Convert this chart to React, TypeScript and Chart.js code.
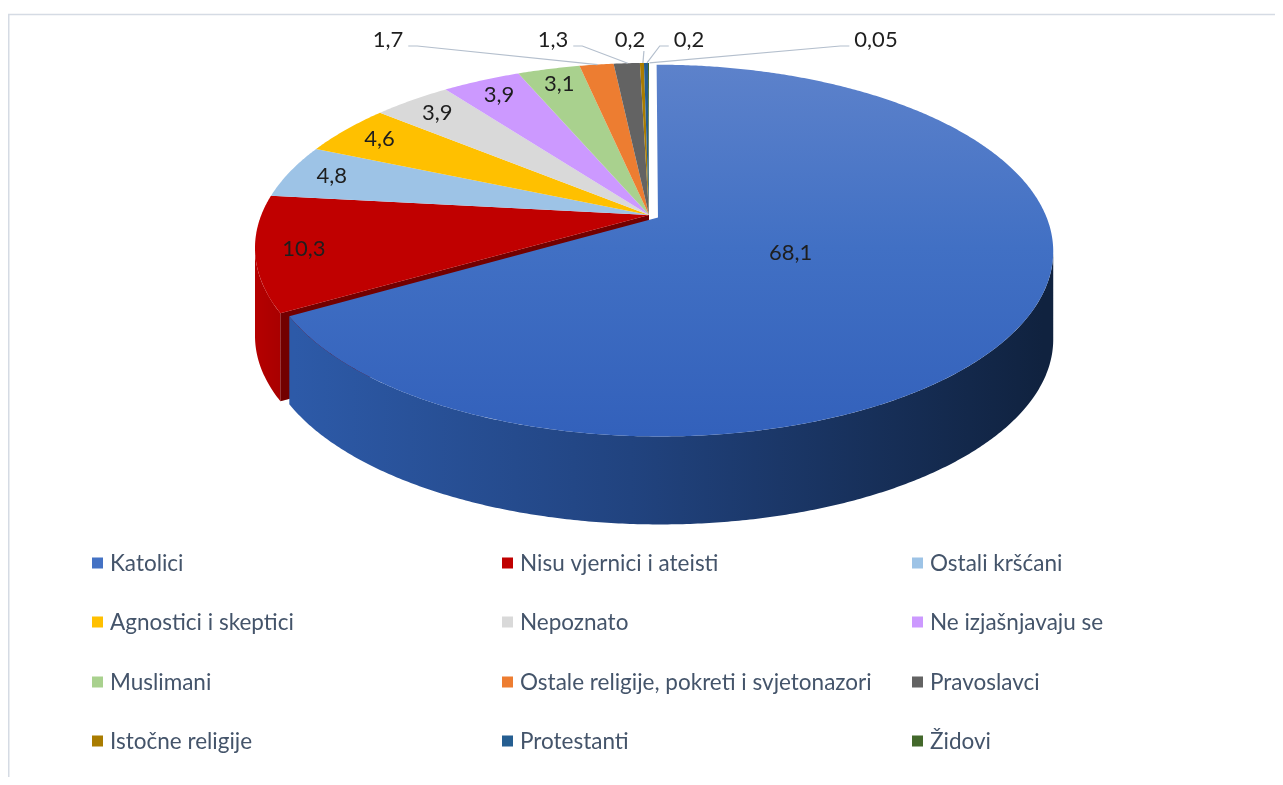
import React, { useEffect, useRef } from 'react';
import { Chart, registerables } from 'chart.js';

Chart.register(...registerables);

const categories = [
  'Katolici',
  'Nisu vjernici i ateisti',
  'Ostali kršćani',
  'Agnostici i skeptici',
  'Nepoznato',
  'Ne izjašnjavaju se',
  'Muslimani',
  'Ostale religije, pokreti i svjetonazori',
  'Pravoslavci',
  'Istočne religije',
  'Protestanti',
  'Židovi',
];
const values = [68.1, 10.3, 4.8, 4.6, 3.9, 3.9, 3.1, 1.7, 1.3, 0.2, 0.2, 0.05];
const colors = [
  '#4472c4', '#c00000', '#9dc3e6', '#ffc000', '#d9d9d9', '#cc99ff',
  '#a9d18e', '#ed7d31', '#636363', '#a97c00', '#255e91', '#43682b',
];
const sideColors = [
  '#1f3f78', '#a40000', '#6f94b8', '#c89600', '#a6a6a6', '#9a70c8',
  '#7fa06a', '#b85f24', '#404040', '#6e5300', '#183f62', '#2e4a1e',
];

const PIE_RADIUS = 394;
const PERSP = -0.178; // perspective factor of the tilted disc
const TILT_Y = 0.4546; // vertical squash of the disc
const DEPTH = 88;
const FONT = "Lato, 'Open Sans', sans-serif";

const fmt = (v: number) => String(v).replace('.', ',');

function makeProjector(cx: number, cy: number, R: number, a: number, ty: number) {
  const sxf = Math.sqrt(1 - a * a);
  return (x: number, y: number): [number, number] => {
    const X = (x - cx) / R;
    const Y = (y - cy) / R;
    const d = 1 + a * Y;
    return [cx + (R * sxf * X) / d, cy + (R * ty * Y) / d];
  };
}

// A drawing context that forwards to the real one, projecting every point
function projCtx(real: any, proj: (x: number, y: number) => [number, number]) {
  let tx = 0;
  let ty = 0;
  const st: number[][] = [];
  const P = (x: number, y: number) => proj(x + tx, y + ty);
  const o: any = {
    save() { st.push([tx, ty]); real.save(); },
    restore() { const s = st.pop(); if (s) { tx = s[0]; ty = s[1]; } real.restore(); },
    translate(x: number, y: number) { tx += x; ty += y; },
    beginPath() { real.beginPath(); },
    closePath() { real.closePath(); },
    moveTo(x: number, y: number) { const q = P(x, y); real.moveTo(q[0], q[1]); },
    lineTo(x: number, y: number) { const q = P(x, y); real.lineTo(q[0], q[1]); },
    arc(x: number, y: number, r: number, s: number, e: number, ccw?: boolean) {
      if (!(r > 0) || !isFinite(s) || !isFinite(e)) { o.lineTo(x, y); return; }
      const TAU = Math.PI * 2;
      let sweep: number;
      if (!ccw) sweep = e - s >= TAU ? TAU : (((e - s) % TAU) + TAU) % TAU;
      else sweep = s - e >= TAU ? -TAU : -((((s - e) % TAU) + TAU) % TAU);
      const n = Math.max(2, Math.ceil(Math.abs(sweep) / 0.008));
      for (let i = 0; i <= n; i++) {
        const t = s + (sweep * i) / n;
        o.lineTo(x + r * Math.cos(t), y + r * Math.sin(t));
      }
    },
    fill() { real.fill(); },
    stroke() { real.stroke(); },
    clip() { real.clip(); },
    setLineDash(v: number[]) { real.setLineDash(v); },
    getLineDash() { return real.getLineDash(); },
  };
  ['fillStyle', 'strokeStyle', 'lineWidth', 'lineJoin', 'lineCap', 'lineDashOffset', 'globalAlpha', 'miterLimit'].forEach((p) =>
    Object.defineProperty(o, p, { get: () => real[p], set: (v) => { real[p] = v; } }),
  );
  return o;
}

const pie3d = {
  id: 'pie3d',
  beforeDraw(chart: any) {
    const ctx = chart.ctx;
    ctx.save();
    ctx.strokeStyle = '#d5dbe4';
    ctx.lineWidth = 1.5;
    ctx.beginPath();
    ctx.moveTo(0.75, chart.height);
    ctx.lineTo(0.75, 6.5);
    ctx.lineTo(chart.width, 6.5);
    ctx.stroke();
    ctx.restore();
  },
  beforeDatasetsDraw(chart: any, _args: any, opts: any) {
    const ctx = chart.ctx;
    const arcs = chart.getDatasetMeta(0).data as any[];
    if (!arcs.length) return false;
    const depth = opts.depth;
    const cx = arcs[0].x;
    const cy = arcs[0].y;
    const R = arcs[0].outerRadius;
    const proj = makeProjector(cx, cy, R, opts.persp, opts.tiltY);
    const off = arcs.map((a, i) => {
      const d = opts.explode[i] || 0;
      const b = (a.startAngle + a.endAngle) / 2;
      return { dx: d * Math.cos(b), dy: d * Math.sin(b) };
    });
    const rim = (i: number, t: number) => proj(cx + off[i].dx + R * Math.cos(t), cy + off[i].dy + R * Math.sin(t));
    const tR = Math.asin(-opts.persp);
    const tL = Math.PI - tR;
    const sideFill = (i: number) => {
      if (i === 0) {
        const g = ctx.createLinearGradient(cx - R * 0.9, 0, cx + R, 0);
        g.addColorStop(0, '#2d5aa8');
        g.addColorStop(0.45, '#21437f');
        g.addColorStop(1, '#10223f');
        return g;
      }
      if (i === 1) {
        const g = ctx.createLinearGradient(cx - R, 0, cx - R + 50, 0);
        g.addColorStop(0, '#b50000');
        g.addColorStop(1, '#9c0000');
        return g;
      }
      return sideColors[i];
    };
    const drawSide = (i: number) => {
      const a = arcs[i];
      const a0 = Math.max(a.startAngle, tR);
      const a1 = Math.min(a.endAngle, tL);
      if (a1 <= a0) return;
      const n = Math.max(2, Math.ceil((a1 - a0) / 0.008));
      const pts: [number, number][] = [];
      for (let j = 0; j <= n; j++) pts.push(rim(i, a0 + ((a1 - a0) * j) / n));
      ctx.beginPath();
      pts.forEach((p, j) => (j ? ctx.lineTo(p[0], p[1]) : ctx.moveTo(p[0], p[1])));
      for (let j = pts.length - 1; j >= 0; j--) ctx.lineTo(pts[j][0], pts[j][1] + depth);
      ctx.closePath();
      ctx.fillStyle = sideFill(i);
      ctx.fill();
    };
    const drawFace = (i: number, ang: number) => {
      const v = proj(cx + off[i].dx, cy + off[i].dy);
      const p = rim(i, ang);
      ctx.beginPath();
      ctx.moveTo(v[0], v[1]);
      ctx.lineTo(p[0], p[1]);
      ctx.lineTo(p[0], p[1] + depth);
      ctx.lineTo(v[0], v[1] + depth);
      ctx.closePath();
      ctx.fillStyle = sideColors[i];
      ctx.fill();
      ctx.fillStyle = 'rgba(0,0,0,0.3)';
      ctx.fill();
    };
    ctx.save();
    const exploded = arcs.map((_, i) => (opts.explode[i] || 0) > 0);
    arcs.forEach((_, i) => { if (!exploded[i]) drawSide(i); });
    arcs.forEach((_, i) => {
      if (!exploded[i]) return;
      const n = (i + 1) % arcs.length;
      const p = (i - 1 + arcs.length) % arcs.length;
      if (!exploded[n] && Math.cos(arcs[n].startAngle) < -0.01) drawFace(n, arcs[n].startAngle);
      if (!exploded[p] && Math.cos(arcs[p].endAngle) > 0.01) drawFace(p, arcs[p].endAngle);
    });
    arcs.forEach((_, i) => { if (exploded[i]) drawSide(i); });

    const pctx = projCtx(ctx, proj);
    arcs.forEach((a, i) => {
      pctx.save();
      pctx.translate(off[i].dx, off[i].dy);
      a.draw(pctx);
      pctx.restore();
    });
    ctx.restore();
    return false;
  },
  afterDraw(chart: any, _args: any, opts: any) {
    const ctx = chart.ctx;
    const arcs = chart.getDatasetMeta(0).data as any[];
    if (!arcs.length) return;
    const cx = arcs[0].x;
    const cy = arcs[0].y;
    const R = arcs[0].outerRadius;
    const proj = makeProjector(cx, cy, R, opts.persp, opts.tiltY);
    const data = chart.data.datasets[0].data as number[];
    ctx.save();
    ctx.font = `${opts.labelSize}px ${FONT}`;
    ctx.textAlign = 'center';
    ctx.textBaseline = 'middle';
    let outIdx = 0;
    arcs.forEach((a, i) => {
      const d = opts.explode[i] || 0;
      const b = (a.startAngle + a.endAngle) / 2;
      const ox = d * Math.cos(b);
      const oy = d * Math.sin(b);
      const v = data[i];
      const text = fmt(v);
      if (v >= opts.outsideBelow) {
        const f = v > 50 ? opts.bigLabelFrac : opts.labelFrac;
        const [x, y] = proj(cx + ox + f * R * Math.cos(b), cy + oy + f * R * Math.sin(b));
        ctx.fillStyle = '#1e1e1e';
        ctx.fillText(text, x, y);
      } else {
        const lx = opts.outsideX[outIdx++];
        const ly = opts.outsideY;
        const [px, py] = proj(cx + ox + R * Math.cos(b), cy + oy + R * Math.sin(b));
        const w = ctx.measureText(text).width;
        ctx.strokeStyle = '#b4bfcd';
        ctx.lineWidth = 1.2;
        ctx.beginPath();
        if (lx + w / 2 + 4 < px) {
          ctx.moveTo(lx + w / 2 + 5, ly + 6);
          ctx.lineTo(lx + w / 2 + 14, ly + 6);
        } else if (lx - w / 2 - 4 > px) {
          ctx.moveTo(lx - w / 2 - 5, ly + 6);
          ctx.lineTo(lx - w / 2 - 14, ly + 6);
        } else {
          ctx.moveTo(px + 2, ly + 11);
        }
        ctx.lineTo(px + 1, py);
        ctx.stroke();
        ctx.fillStyle = '#1e1e1e';
        ctx.fillText(text, lx, ly);
      }
    });

    // legend (3-column grid)
    const labels = chart.data.labels as string[];
    ctx.font = `${opts.legendSize}px ${FONT}`;
    ctx.textAlign = 'left';
    labels.forEach((t, i) => {
      const col = i % 3;
      const row = Math.floor(i / 3);
      const x = opts.legendCols[col];
      const y = opts.legendRows[row];
      ctx.fillStyle = colors[i];
      ctx.fillRect(x, y - 5.5, 11, 11);
      ctx.fillStyle = '#44546a';
      ctx.fillText(t, x + 18, y + 1);
    });
    ctx.restore();
  },
};

export default function App() {
  const ref = useRef<HTMLCanvasElement>(null);
  useEffect(() => {
    if (!ref.current) return;
    const chart = new Chart(ref.current, {
      type: 'pie',
      data: {
        labels: categories,
        datasets: [
          {
            data: values,
            radius: PIE_RADIUS,
            borderWidth: 0,
            backgroundColor: (c: any) => {
              const i = c.dataIndex;
              if (i !== 0) return colors[i] ?? colors[0];
              const area = c.chart.chartArea;
              if (!area) return colors[0];
              const cy = (area.top + area.bottom) / 2;
              const top = cy - (PIE_RADIUS * TILT_Y) / (1 - PERSP);
              const bottom = cy + (PIE_RADIUS * TILT_Y) / (1 + PERSP);
              const g = c.chart.ctx.createLinearGradient(0, top, 0, bottom);
              g.addColorStop(0, '#5d82cb');
              g.addColorStop(0.5, '#4170c4');
              g.addColorStop(1, '#3361bb');
              return g;
            },
          } as any,
        ],
      },
      options: {
        animation: false,
        responsive: false,
        events: [],
        radius: PIE_RADIUS,
        layout: { padding: { left: 7, right: 0, top: 0, bottom: 355 } },
        plugins: {
          legend: { display: false },
          tooltip: { enabled: false },
          pie3d: {
            persp: PERSP,
            tiltY: TILT_Y,
            depth: DEPTH,
            explode: [10.5],
            labelSize: 22,
            legendSize: 22.5,
            labelFrac: 0.88,
            bigLabelFrac: 0.38,
            outsideBelow: 2,
            outsideX: [380, 545, 622, 681, 868],
            outsideY: 32,
            legendCols: [84, 494, 904],
            legendRows: [555, 614, 674, 733],
          },
        } as any,
      } as any,
      plugins: [pie3d],
    });
    return () => chart.destroy();
  }, []);
  return (
    <div style={{ width: 1275, height: 769 }}>
      <canvas ref={ref} width={1275} height={769} style={{ display: 'block' }} />
    </div>
  );
}
